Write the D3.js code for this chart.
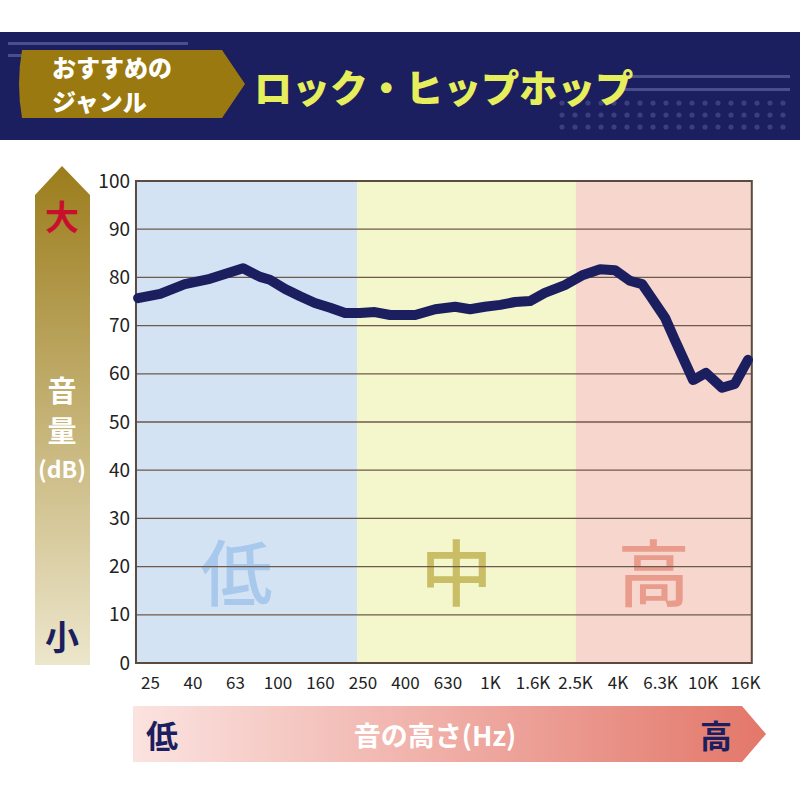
<!DOCTYPE html>
<html><head><meta charset="utf-8">
<script src="https://cdn.jsdelivr.net/npm/d3@7"></script>
<style>body{margin:0;background:#fff}svg{display:block}text{font-family:"Noto Sans CJK JP","Noto Sans",sans-serif}</style>
</head><body>
<svg width="800" height="800"></svg>
<script>
// tick labels along frequency axis
const freqLabels = ['25','40','63','100','160','250','400','630','1K','1.6K','2.5K','4K','6.3K','10K','16K'];
const yTicks = [0,10,20,30,40,50,60,70,80,90,100];
// curve, x as position in label index units
const curveX = [-0.28,0.24,0.82,1.41,2.19,2.59,2.82,3.18,3.53,3.88,4.24,4.59,4.94,5.29,5.65,6.24,6.71,7.18,7.53,7.88,8.24,8.59,8.94,9.29,9.76,10.19,10.59,10.94,11.29,11.58,11.76,12.12,12.35,12.78,13.08,13.46,13.76,14.07];
const curveY = [75.7,76.6,78.6,79.7,81.9,80.1,79.5,77.6,76.1,74.7,73.7,72.6,72.6,72.8,72.2,72.2,73.4,73.9,73.4,73.9,74.3,74.9,75.1,76.8,78.4,80.5,81.7,81.5,79.3,78.6,76.3,71.6,67,58.7,60.2,57.1,57.9,62.9];
const bands = [
  {from:-0.33, to:4.87, fill:'#d3e3f4', label:'低', color:'#a9c9ec'},
  {from:4.87, to:10.02, fill:'#f4f6cb', label:'中', color:'#c9bd66'},
  {from:10.02, to:14.16, fill:'#f6d6cd', label:'高', color:'#e99b8c'}
];

const svg = d3.select('svg');
const x = d3.scaleLinear().domain([0,14]).range([150,745]);
const y = d3.scaleLinear().domain([0,100]).range([663,181]);
const defs = svg.append('defs');

// header
svg.append('rect').attr('x',0).attr('y',32).attr('width',800).attr('height',108).attr('fill','#1b1e5f');
[[8,42,180],[8,54,30]].forEach(([a,b,w]) => svg.append('rect').attr('x',a).attr('y',b).attr('width',w).attr('height',3).attr('fill','#4a4f8c'));
[[620,75,170],[620,88,170]].forEach(([a,b,w]) => svg.append('rect').attr('x',a).attr('y',b).attr('width',w).attr('height',3).attr('fill','#4a4f8c'));
for (let r = 0; r < 3; r++) for (let c = 0; c < 18; c++)
  svg.append('circle').attr('cx',562+c*13).attr('cy',103+r*12).attr('r',2.6).attr('fill','#3a3f7e');
svg.append('path').attr('d','M22,50 L222,50 L245,84 L222,118 L22,118 Q16,84 22,50Z').attr('fill','#9a7a10');
svg.append('text').attr('x',52).attr('y',77).attr('fill','#fff').attr('font-size',24).attr('font-weight',900).text('おすすめの');
svg.append('text').attr('x',52).attr('y',111).attr('fill','#fff').attr('font-size',24).attr('font-weight',900).text('ジャンル');
svg.append('text').attr('x',254).attr('y',102).attr('fill','#e6ee5c').attr('font-size',38).attr('font-weight',900).text('ロック・ヒップホップ');

// bands
bands.forEach(b => {
  svg.append('rect').attr('x',x(b.from)).attr('y',y(100)).attr('width',x(b.to)-x(b.from)).attr('height',y(0)-y(100)).attr('fill',b.fill);
  svg.append('text').attr('x',(x(b.from)+x(b.to))/2 - 10).attr('y',600).attr('text-anchor','middle')
    .attr('font-size',72).attr('font-weight',500).attr('fill',b.color).text(b.label);
});

// grid
svg.append('g').selectAll('line').data(yTicks).join('line')
  .attr('x1',x(-0.33)).attr('x2',x(14.16)).attr('y1',d=>y(d)).attr('y2',d=>y(d))
  .attr('stroke','#6e5a4b').attr('stroke-width',1.3);
svg.append('rect').attr('x',x(-0.33)).attr('y',y(100)).attr('width',x(14.16)-x(-0.33)).attr('height',y(0)-y(100))
  .attr('fill','none').attr('stroke','#5a4a3f').attr('stroke-width',2);

// axes
const yAxis = svg.append('g').attr('transform',`translate(${x(-0.33)},0)`)
  .call(d3.axisLeft(y).tickValues(yTicks).tickSize(0).tickPadding(6));
yAxis.select('.domain').remove();
yAxis.selectAll('text').attr('font-size',19).attr('fill','#222').style('font-family','"Noto Sans CJK JP"');
const xAxis = svg.append('g').attr('transform',`translate(0,${y(0)})`)
  .call(d3.axisBottom(x).tickValues(d3.range(15)).tickFormat(i=>freqLabels[i]).tickSize(0).tickPadding(14));
xAxis.select('.domain').remove();
xAxis.selectAll('text').attr('font-size',17).attr('fill','#222').style('font-family','"Noto Sans CJK JP"');

// curve
svg.append('path').datum(curveX.map((v,i)=>[v,curveY[i]]))
  .attr('d',d3.line().x(d=>x(d[0])).y(d=>y(d[1])))
  .attr('fill','none').attr('stroke','#1b1e5f').attr('stroke-width',10)
  .attr('stroke-linejoin','round').attr('stroke-linecap','round');

// vertical arrow
const gv = defs.append('linearGradient').attr('id','gv').attr('x1',0).attr('x2',0).attr('y1',0).attr('y2',1);
gv.append('stop').attr('offset','0').attr('stop-color','#9c7d1c');
gv.append('stop').attr('offset','1').attr('stop-color','#ece6cc');
svg.append('path').attr('d','M35,195 L62,166 L90,195 L90,665 L35,665Z').attr('fill','url(#gv)');
svg.append('text').attr('x',62).attr('y',230).attr('text-anchor','middle').attr('font-size',34).attr('fill','#c8102e').attr('font-weight',700).text('大');
svg.append('text').attr('x',62).attr('y',650).attr('text-anchor','middle').attr('font-size',34).attr('fill','#1b1e5f').attr('font-weight',700).text('小');
[['音',402],['量',442]].forEach(([t,yy]) => svg.append('text').attr('x',62).attr('y',yy).attr('text-anchor','middle').attr('font-size',29).attr('fill','#fff').attr('font-weight',700).text(t));
svg.append('text').attr('x',62).attr('y',478).attr('text-anchor','middle').attr('font-size',23).attr('fill','#fff').attr('font-weight',700).text('(dB)');

// horizontal arrow
const gh = defs.append('linearGradient').attr('id','gh');
gh.append('stop').attr('offset','0').attr('stop-color','#fbe3e0');
gh.append('stop').attr('offset','1').attr('stop-color','#e3776a');
svg.append('path').attr('d','M133,706 L742,706 L766,734 L742,762 L133,762Z').attr('fill','url(#gh)');
svg.append('text').attr('x',162).attr('y',748).attr('text-anchor','middle').attr('font-size',32).attr('fill','#1b1e5f').attr('font-weight',700).text('低');
svg.append('text').attr('x',716).attr('y',748).attr('text-anchor','middle').attr('font-size',32).attr('fill','#1b1e5f').attr('font-weight',700).text('高');
svg.append('text').attr('x',435).attr('y',746).attr('text-anchor','middle').attr('font-size',27).attr('fill','#fff').attr('font-weight',700).text('音の高さ(Hz)');
</script>
</body></html>
